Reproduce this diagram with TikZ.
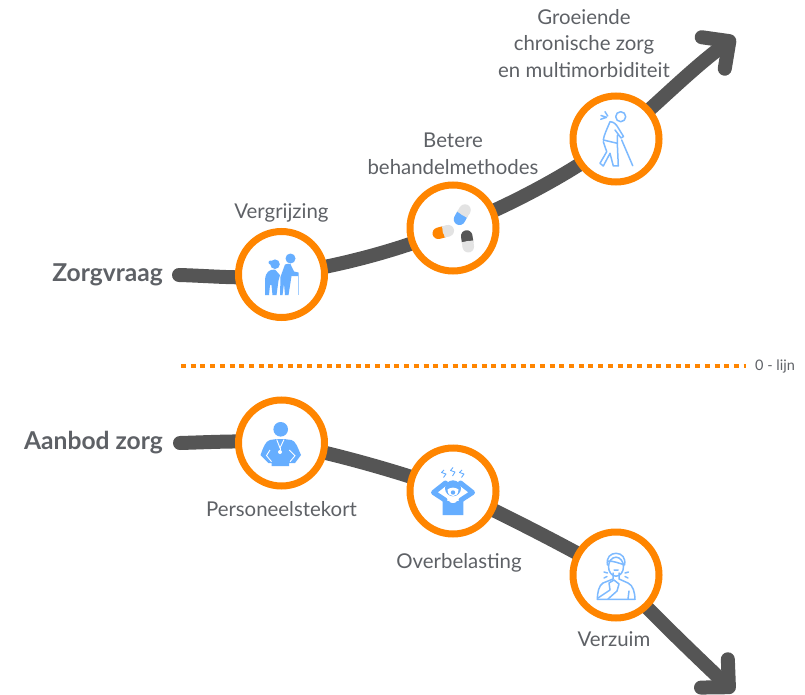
\documentclass[tikz,border=0pt]{standalone}
\usepackage{fontspec}
\setmainfont{Lato}
\usetikzlibrary{
    arrows.meta,
    positioning,
    backgrounds
}
\definecolor{ringorange}{HTML}{FF8500}
\definecolor{trendgrey}{HTML}{555555}
\definecolor{textgrey}{HTML}{5E6166}
\definecolor{iconblue}{HTML}{66AEFF}
\definecolor{pillgrey}{HTML}{E3E3E3}

% capsule: colour end, middle, grey end, colour
\newcommand{\capsule}[4]{%
    \draw[line width=11.5pt, line cap=round, #4] #1 -- #2;
    \draw[line width=11.5pt, pillgrey] #2 -- #3;
    \fill[pillgrey] #3 circle (5.75pt);
}

\begin{document}
\begin{tikzpicture}[
    x=1pt, y=-1pt,
    ring/.style={circle, draw=ringorange, fill=white, line width=7pt,
                 minimum size=86pt, inner sep=0pt},
    trend/.style={draw=trendgrey, line width=14pt, line cap=round},
    rise/.style={trend, -{Straight Barb[length=20pt, width=39pt, round, line width=14pt]}},
    zeroline/.style={draw=ringorange, line width=4.5pt,
                     dash pattern=on 5pt off 4.7pt},
    lab/.style={font=\fontsize{20.4}{26.5}\selectfont, text=textgrey,
                align=center, inner sep=0pt},
    headlab/.style={font=\fontsize{24.6}{28}\selectfont\bfseries, text=textgrey,
                    anchor=east, inner sep=0pt},
    solidicon/.style={fill=iconblue, draw=none},
    lineicon/.style={draw=iconblue!85, line width=1.5pt, line join=round, line cap=round}
]
\useasboundingbox (0,0) rectangle (805,695);

% =========================
% 1) RINGS
% =========================
\node[ring] (oud)    at (281.5,274.5) {};
\node[ring] (pil)    at (453,228)     {};
\node[ring] (chron)  at (616,139)     {};
\node[ring] (staf)   at (281.5,443)   {};
\node[ring] (stress) at (453,491)     {};
\node[ring] (ziek)   at (616,575)     {};

\coordinate (vraagstart) at (179,275);
\coordinate (vraagtip)   at (735,37);
\coordinate (aanbodstart) at (180,443);
\coordinate (aanbodtip)  at (734,692);
\coordinate (nulstart)   at (181,366);
\coordinate (nulend)     at (746,366);

% =========================
% 2) TREND LINES
% =========================
\begin{scope}[on background layer]
\draw[trend] (vraagstart) .. controls (215,276) and (250,280) .. (oud.center);
\draw[trend] (oud.center) .. controls (340,266) and (400,250) .. (pil.center);
\draw[trend] (pil.center) .. controls (500,210) and (570,175) .. (chron.center);
\draw[rise]  (chron.center) .. controls (650,111) and (690,70) .. (vraagtip);

\draw[trend] (aanbodstart) .. controls (215,442) and (250,440) .. (staf.center);
\draw[trend] (staf.center) .. controls (340,455) and (400,472) .. (stress.center);
\draw[trend] (stress.center) .. controls (495,510) and (570,548) .. (ziek.center);
\draw[rise]  (ziek.center) .. controls (650,612) and (695,655) .. (aanbodtip);
\end{scope}

\draw[zeroline] (nulstart) -- (nulend);

% =========================
% 3) LABELS
% =========================
\node[headlab] (zorgvraag) at (163,275) {Zorgvraag};
\node[headlab] (aanbod)    at (163,443) {Aanbod zorg};
\node[anchor=west, inner sep=0pt, text=textgrey, font=\fontsize{14.5}{16}\selectfont]
    (nullijn) at (755,366) {0 - lijn};

\node[lab, above=6pt of oud]   (lvergrijs) {Vergrijzing};
\node[lab, above=7pt of pil]   (lbeter)    {Betere\\behandelmethodes};
\node[lab, above=15pt of chron, xshift=-32pt] (lgroei) {Groeiende\\chronische zorg\\en multimorbiditeit};
\node[lab, below=12pt of staf]   (lperso)  {Personeelstekort};
\node[lab, below=16pt of stress, xshift=6pt] (lover) {Overbelasting};
\node[lab, below=10pt of ziek, xshift=-2pt] (lverzuim) {Verzuim};

% =========================
% 4) ICONS
% =========================
% elderly couple
\begin{scope}[shift={(oud.center)}]
\fill[solidicon] (-6.5,-10.3) circle (4.8pt) (-11,-12) circle (2pt);
\fill[solidicon] (9,-16) circle (5pt);
\fill[solidicon] (-16.5,20.7) -- (-16.5,5.7) .. controls (-16,-3) and (-12,-5) .. (-6.5,-5)
    -- (-1.5,0.7) -- (-3,6) -- (-5,20.7) -- (-9,20.7) -- (-10,10.7) -- (-11.5,10.7) -- (-12.5,20.7) -- cycle;
\fill[solidicon] (-1.5,20.7) -- (-1,2.3) -- (3.5,-10) .. controls (6,-11) and (8,-11) .. (9,-10.3)
    -- (12.5,-3) -- (17,-2) -- (17,1.7) -- (10,1.7) -- (7,20.7) -- (3.5,20.7) -- (2.5,9) -- (1,20.7) -- cycle;
\draw[iconblue!60, line width=1.2pt] (17,1) -- (17,20.7);
\end{scope}

% capsules
\begin{scope}[shift={(pil.center)}]
\capsule{(6.5,-8.7)}{(9,-13.3)}{(12,-18)}{iconblue}
\capsule{(-14.7,5.3)}{(-9.7,4)}{(-4.7,2.7)}{ringorange}
\capsule{(13.7,8)}{(14.5,13.3)}{(15.3,18.7)}{trendgrey}
\end{scope}

% person on a crutch
\begin{scope}[shift={(chron.center)}]
\draw[lineicon] (4.7,-22.3) circle (5pt);
\draw[lineicon] (-6,-17.3) .. controls (-9,-10) and (-12,-4) .. (-12.7,1) -- (1.3,4.3) -- (1.5,-4)
    (-6,-17.3) .. controls (-2,-17) and (0,-15) .. (2.3,-11) -- (7.5,-2.5) -- (5,-1) -- (-1,-9);
\draw[lineicon] (-12.7,2.7) -- (-9.3,12.7) -- (-16,24.3) -- (-12.7,27) -- (-6,14.3) -- (-2.7,27)
    -- (2.3,27) -- (1.3,4.3);
\draw[lineicon] (5.7,1) -- (16.7,26.7);
\draw[lineicon] (-15.3,-19.7) -- (-9.5,-21.7) (-11,-27.3) -- (-8.3,-23) (-15,-23.5) -- (-9.5,-21.7);
\end{scope}

% employee with badge
\begin{scope}[shift={(staf.center)}]
\fill[solidicon] (-0.8,-13.7) circle (7.3pt);
\fill[solidicon] (-4.8,-4) -- (2.5,-4) -- (10,-3) .. controls (14,-2) and (16,4) .. (19.5,12)
    -- (13.5,20) -- (7.5,20) -- (7.5,23) -- (-10,23) -- (-10,20) -- (-13,20) -- (-21,12)
    .. controls (-18,4) and (-16,-2) .. (-11.5,-3) -- cycle;
\draw[white, line width=0.9pt] (-4.8,-3.5) -- (-1.5,5) -- (2.5,-3.5);
\draw[white, line width=0.9pt] (-1.5,5) -- (-1.5,7);
\fill[white] (-1.5,9) circle (2pt);
\draw[white, line width=0.9pt] (-11.5,7) -- (-15,12.5) -- (-10,18.7)
    (7.8,7) -- (13.5,12.7) -- (8.5,18.7);
\end{scope}

% stressed person
\begin{scope}[shift={(stress.center)}]
\fill[solidicon] (0,-2.7) circle (8pt);
\fill[white] (-5.5,-1.5) .. controls (-2,-4) and (2,-4) .. (5.5,-1.5)
    .. controls (5.5,4) and (2,5) .. (0,5) .. controls (-2,5) and (-5.5,4) .. (-5.5,-1.5);
\fill[solidicon] (0,1.5) circle (2.2pt);
\draw[iconblue, line width=5pt, line join=round, line cap=round]
    (-7.5,-8) -- (-19.5,1.5) -- (-8,9) (7.5,-8) -- (19.5,1.5) -- (8,9);
\fill[solidicon] (-10.3,10) -- (-4,10) .. controls (-3,13) and (3,13) .. (4,10) -- (10.3,10)
    -- (10.3,24) -- (-10.3,24) -- cycle;
\draw[iconblue, line width=0.9pt, line join=round]
    (-9,-21) -- (-11.5,-18.5) -- (-7,-17) -- (-9.5,-13.5)
    (0,-23.5) -- (-2.5,-20.5) -- (2,-19) -- (-0.5,-15)
    (9,-21) -- (6.5,-18.5) -- (11,-17) -- (8.5,-13.5);
\end{scope}

% patient with sore throat
\begin{scope}[shift={(ziek.center)}]
\draw[lineicon] (0,-8.3) ellipse (7.5pt and 9.5pt);
\draw[lineicon] (-8.5,-10) .. controls (-10,-18) and (-5,-21.7) .. (0,-21.7)
    .. controls (6,-21.7) and (10,-17) .. (8.5,-10) .. controls (3,-12) and (-3,-14) .. (-7.5,-14);
\draw[lineicon] (-3,-2) -- (-3,4) -- (-13,8) .. controls (-17,10) and (-18.7,18) .. (-18.7,24.3)
    -- (19,24.3) .. controls (19,18) and (17,10) .. (12,8) -- (3,4) -- (3,-2);
\draw[lineicon] (-18,23) -- (-6,15) -- (-7,8) -- (-2,5) -- (3,9) -- (1,16) -- (-8,24);
\draw[lineicon] (12,24) -- (13,16) (-2,-5) -- (2,-5);
\draw[lineicon] (-12,-3) -- (-8.5,-2) (-12,3) -- (-9,1.5) (9,-2) -- (12.5,-3) (9,1.5) -- (12,3);
\end{scope}

\end{tikzpicture}
\end{document}
